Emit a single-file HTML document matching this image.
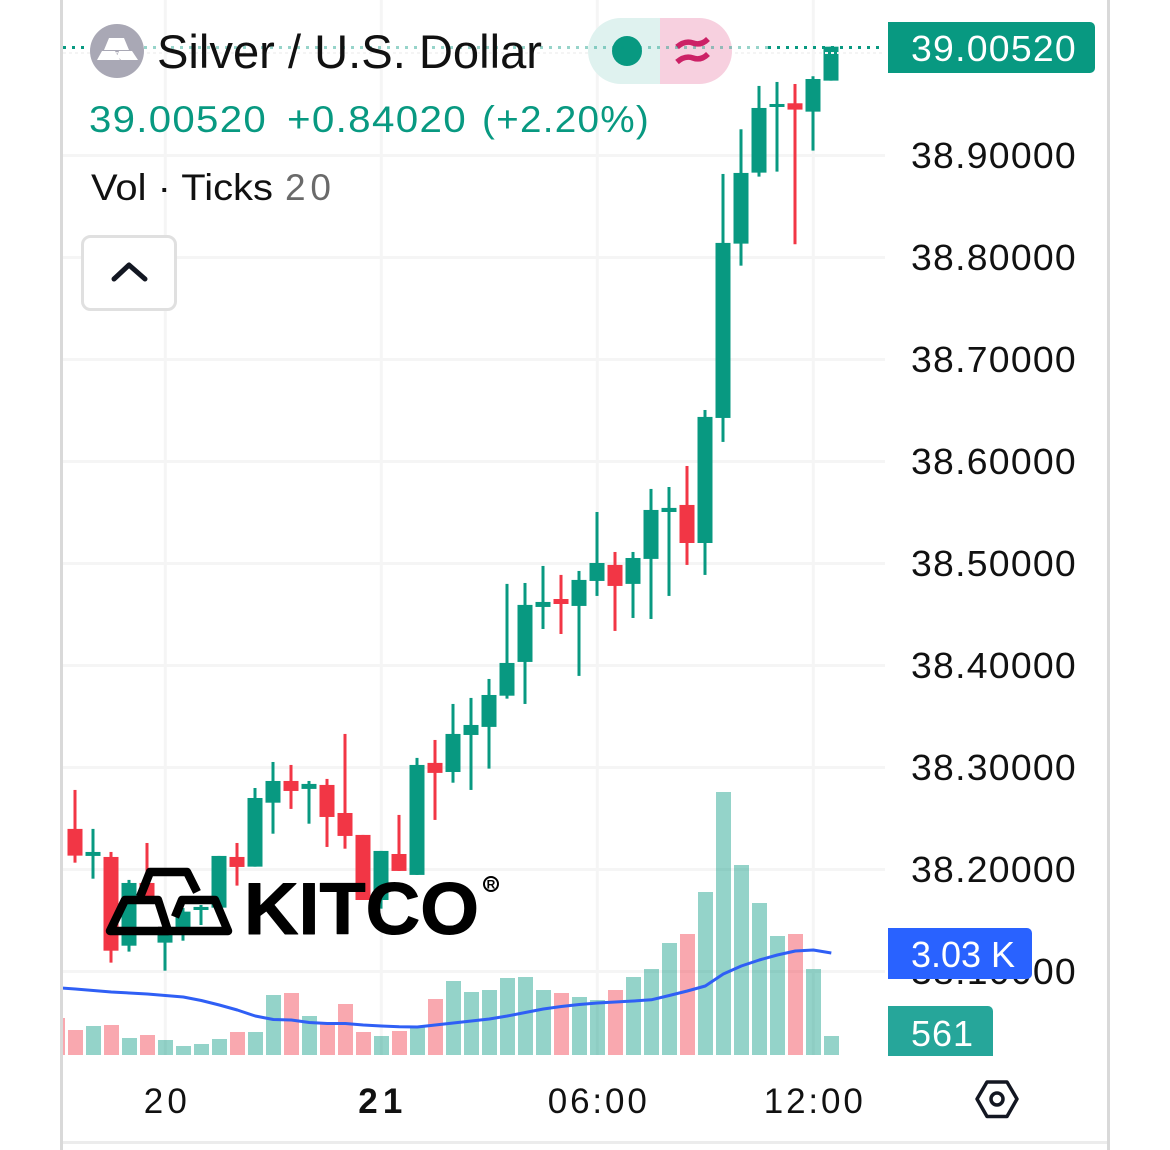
<!DOCTYPE html>
<html lang="en">
<head>
<meta charset="utf-8">
<title>Silver / U.S. Dollar chart</title>
<style>
  html, body { margin: 0; padding: 0; background: #fff; }
  body { width: 1170px; height: 1150px; overflow: hidden; }
  svg { display: block; font-family: "Liberation Sans", sans-serif; }
</style>
</head>
<body>
<svg id="chart" xmlns="http://www.w3.org/2000/svg" width="1170" height="1150" viewBox="0 0 1170 1150">
  <defs>
    <clipPath id="pane-clip"><rect x="63" y="0" width="822" height="1060"/></clipPath>
  </defs>
  <rect x="0" y="0" width="1170" height="1150" fill="#fff"/>
  <g id="grid"></g>
  <g id="volumes" clip-path="url(#pane-clip)"></g>
  <path id="ma-line" fill="none" stroke="#2f5ff5" stroke-width="3" stroke-linejoin="round" clip-path="url(#pane-clip)"/>
  <g id="candles"></g>

  <line x1="63" x2="885" y1="53" y2="53" stroke="#f4f4f4" stroke-width="2" stroke-dasharray="3 3"/>

  <g>
    <path d="M660 18H621a33 33 0 0 0 0 66h39z" fill="#dff2ef"/>
    <path d="M660 18h39a33 33 0 0 1 0 66h-39z" fill="#f7d0df"/>
    <circle cx="627" cy="51" r="15" fill="#089981"/>
    <path d="M677 47q8-7 16-4t15-4M677 62q8-7 16-4t15-4" fill="none" stroke="#cc2166" stroke-width="5.5"/>
  </g>

  <line x1="63" x2="85" y1="47.5" y2="47.5" stroke="#089981" stroke-width="3" stroke-dasharray="3 6"/>
  <line x1="144" x2="768" y1="47.5" y2="47.5" stroke="#089981" stroke-opacity=".42" stroke-width="3" stroke-dasharray="3 6"/>
  <line x1="768" x2="885" y1="47.5" y2="47.5" stroke="#089981" stroke-width="3" stroke-dasharray="3 6"/>

  <g id="y-axis"></g>
  <g id="x-axis"></g>

  <g>
    <circle cx="117" cy="51" r="27" fill="#a9a8b5"/>
    <path d="M109 38h15l5 12h-25zM102 51h13l5 9H97zM119 51h13l6 9h-17l-4-4zM116 52h2l-1 2z" fill="#fff"/>
    <text x="157" y="68" font-size="47" fill="#111" textLength="385" lengthAdjust="spacingAndGlyphs">Silver / U.S. Dollar</text>
    <text x="89" y="132" font-size="37" letter-spacing="1.2" fill="#089981" textLength="178" lengthAdjust="spacingAndGlyphs">39.00520</text>
    <text x="287" y="132" font-size="37" letter-spacing="1.2" fill="#089981" textLength="180" lengthAdjust="spacingAndGlyphs">+0.84020</text>
    <text x="482" y="132" font-size="37" letter-spacing="1.2" fill="#089981" textLength="168" lengthAdjust="spacingAndGlyphs">(+2.20%)</text>
    <text x="91" y="200" font-size="37" fill="#111" textLength="182" lengthAdjust="spacingAndGlyphs">Vol · Ticks</text>
    <text x="285" y="200" font-size="37" fill="#6a6a6a" textLength="46" lengthAdjust="spacing">20</text>
    <rect x="82.5" y="236.5" width="93" height="73" rx="8" fill="#fff" stroke="#e0e0e0" stroke-width="3"/>
    <polyline points="114,279 129,265 145,279" fill="none" stroke="#131722" stroke-width="5" stroke-linecap="round" stroke-linejoin="round"/>
  </g>

  <g fill="none" stroke="#000" stroke-width="8.5" stroke-linejoin="round" stroke-linecap="butt">
    <path d="M140 897L150 872H187L197 892"/>
    <path d="M125 900H158L168 931H110Z"/>
    <path d="M175 917L182 900H215L228 931H158"/>
    <text x="244" y="934" font-size="73" font-weight="bold" fill="#000" stroke="#000" stroke-width="1" textLength="235" lengthAdjust="spacingAndGlyphs">KITCO</text>
    <circle cx="491" cy="884" r="7" stroke-width="2"/>
    <text x="491" y="888.5" font-size="12" font-weight="bold" fill="#000" stroke="none" text-anchor="middle">R</text>
  </g>

  <g>
    <path d="M888 22H1090a5 5 0 0 1 5 5V68a5 5 0 0 1-5 5H888Z" fill="#089981"/>
    <text x="911" y="61" font-size="36" letter-spacing="1.2" fill="#fff" textLength="166" lengthAdjust="spacingAndGlyphs">39.00520</text>
  </g>
  <g>
    <path d="M888 928H1027a5 5 0 0 1 5 5V974a5 5 0 0 1-5 5H888Z" fill="#2962ff"/>
    <text x="911" y="967" font-size="36" fill="#fff" textLength="104" lengthAdjust="spacing">3.03 K</text>
  </g>
  <g>
    <path d="M888 1006H988a5 5 0 0 1 5 5V1056H888Z" fill="#26a69a"/>
    <text x="911" y="1046" font-size="36" fill="#fff" textLength="62" lengthAdjust="spacing">561</text>
  </g>

  <g fill="none" stroke="#131722" stroke-width="3.5" stroke-linejoin="round">
    <polygon points="987,1082 1007,1082 1017,1099 1007,1116.5 987,1116.5 977,1099"/>
    <circle cx="997" cy="1099" r="6"/>
  </g>

  <rect x="60" y="0" width="3" height="1150" fill="#d9d9d9"/>
  <rect x="1107" y="0" width="3" height="1150" fill="#d9d9d9"/>
  <rect x="63" y="1141" width="1044" height="3" fill="#ececec"/>
</svg>

<script>
const opens = [38.2398,38.2133,38.2123,38.1253,38.1868,38.1283,38.1378,38.1603,38.1626,38.2123,38.2028,38.2655,38.2868,38.2790,38.2829,38.2554,38.2339,38.1701,38.2152,38.1947,38.3045,38.2956,38.3319,38.3398,38.3704,38.4035,38.4574,38.4652,38.4584,38.4829,38.4986,38.4800,38.5045,38.5505,38.5574,38.5201,38.6427,38.8136,38.8832,38.9476,38.9512,38.9430,38.9734];
const highs = [38.2780,38.2398,38.2172,38.1898,38.2260,38.1456,38.1623,38.1652,38.2133,38.2260,38.2799,38.3054,38.3025,38.2868,38.2888,38.3329,38.2339,38.2182,38.2535,38.3094,38.3270,38.3623,38.3682,38.3868,38.4800,38.4809,38.4976,38.4888,38.4927,38.5505,38.5113,38.5113,38.5731,38.5750,38.5956,38.6505,38.8819,38.9257,38.9682,38.9721,38.9701,38.9777,39.0067];
const lows = [38.2067,38.1910,38.1087,38.1195,38.1721,38.1008,38.1302,38.1456,38.1626,38.1842,38.2028,38.2351,38.2594,38.2449,38.2221,38.2204,38.1701,38.1616,38.1986,38.1947,38.2486,38.2851,38.2780,38.2989,38.3675,38.3623,38.4358,38.4309,38.3898,38.4682,38.4339,38.4466,38.4456,38.4682,38.4986,38.4888,38.6192,38.7920,38.8793,38.8842,38.8130,38.9048,38.9734];
const closes = [38.2136,38.2172,38.1204,38.1868,38.1721,38.1407,38.1587,38.1633,38.2133,38.2025,38.2701,38.2868,38.2770,38.2839,38.2515,38.2329,38.1701,38.2182,38.1986,38.3025,38.2947,38.3329,38.3417,38.3711,38.4025,38.4594,38.4623,38.4603,38.4839,38.5005,38.4780,38.5054,38.5525,38.5545,38.5201,38.6437,38.8143,38.8829,38.9466,38.9505,38.9450,38.9750,39.0067];
const priorBarVolume = 1082;
const volumes = [725,841,870,493,580,435,261,319,464,667,667,1740,1798,1131,928,1479,667,551,696,812,1624,2146,1827,1885,2233,2262,1885,1798,1682,1595,1885,2262,2494,3248,3509,4727,7627,5510,4408,3451,3509,2494,561];
const priorBarAverage = 1952;
const volumeAverage = [1914,1870,1827,1798,1769,1725,1682,1580,1450,1305,1131,1030,1015,942,913,913,870,841,820,812,870,928,986,1044,1131,1232,1334,1406,1464,1508,1537,1566,1600,1725,1856,2001,2349,2581,2755,2900,3016,3045,2958];
const priceTicks = [38.9,38.8,38.7,38.6,38.5,38.4,38.3,38.2,38.1];
const priceTickLabels = ["38.90000","38.80000","38.70000","38.60000","38.50000","38.40000","38.30000","38.20000","38.10000"];
const timeTickBars = [5,17,29,41];
const timeTickLabels = ["20","21","06:00","12:00"];

const NS = 'http://www.w3.org/2000/svg';
const UP = '#089981', DOWN = '#f23645';
const xScale = i => 75.3 + 18 * i;
const yScale = v => 155.5 + (38.9 - v) * 1020;
const volY = v => 1055 - v / 29;

function make(tag, parent, attrs) {
  const el = document.createElementNS(NS, tag);
  for (const k in attrs) el.setAttribute(k, attrs[k]);
  parent.appendChild(el);
  return el;
}

const grid = document.getElementById('grid');
priceTicks.forEach((tick, i) => {
  const y = yScale(tick);
  const line = make('line', grid, {x1: 63, x2: 885, y1: y, y2: y, stroke: '#f5f5f5', 'stroke-width': 3});
  
  
});
timeTickBars.forEach(bar => {
  const x = xScale(bar);
  const line = make('line', grid, {x1: x, x2: x, y1: 0, y2: 1055, stroke: '#f5f5f5', 'stroke-width': 3});
  
  
});

const volGroup = document.getElementById('volumes');
function drawVolume(i, value, isUp) {
  const top = Math.round(volY(value));
  const bar = make('rect', volGroup, {x: Math.round(xScale(i) - 7.5), y: top, width: 15, height: 1055 - top, fill: isUp ? UP : DOWN, 'fill-opacity': isUp ? .43 : .43});
  
  
}
drawVolume(-1, priorBarVolume, false);
volumes.forEach((value, i) => drawVolume(i, value, closes[i] >= opens[i]));

const maPoints = [[xScale(-1), volY(priorBarAverage)]].concat(volumeAverage.map((v, i) => [xScale(i), volY(v)]));
document.getElementById('ma-line').setAttribute('d', 'M' + maPoints.map(p => p[0].toFixed(1) + ' ' + p[1].toFixed(1)).join('L'));

const candleGroup = document.getElementById('candles');
opens.forEach((open, i) => {
  const close = closes[i];
  const color = close >= open ? UP : DOWN;
  const cx = Math.round(xScale(i));
  const g = make('g', candleGroup, {});
  
  
  const wick = make('rect', g, {x: cx - 1.5, y: yScale(highs[i]), width: 3, height: Math.max(0, yScale(lows[i]) - yScale(highs[i])), fill: color});
  
  
  const top = Math.min(yScale(open), yScale(close));
  const height = Math.max(3, Math.abs(yScale(open) - yScale(close)));
  const body = make('rect', g, {x: cx - 7.5, y: top, width: 15, height: height, fill: color});
  
  
});

const yAxis = document.getElementById('y-axis');
priceTicks.forEach((tick, i) => {
  const label = make('text', yAxis, {x: 911, y: yScale(tick) + 12.5, 'font-size': 36, 'letter-spacing': 1.2, fill: '#111', textLength: 166, lengthAdjust: 'spacingAndGlyphs'});
  
  
  label.textContent = priceTickLabels[i];
});

const xAxis = document.getElementById('x-axis');
timeTickBars.forEach((bar, i) => {
  const text = timeTickLabels[i];
  const isDay = text === '21';
  const width = text.length > 2 ? 99 : (isDay ? 44 : 43);
  const label = make('text', xAxis, {x: xScale(bar) - width / 2 - (isDay ? 1 : 0), y: 1113, 'font-size': 35, fill: '#111', textLength: width, lengthAdjust: 'spacing', 'font-weight': isDay ? 'bold' : 'normal'});
  
  
  label.textContent = text;
});
</script>
</body>
</html>
